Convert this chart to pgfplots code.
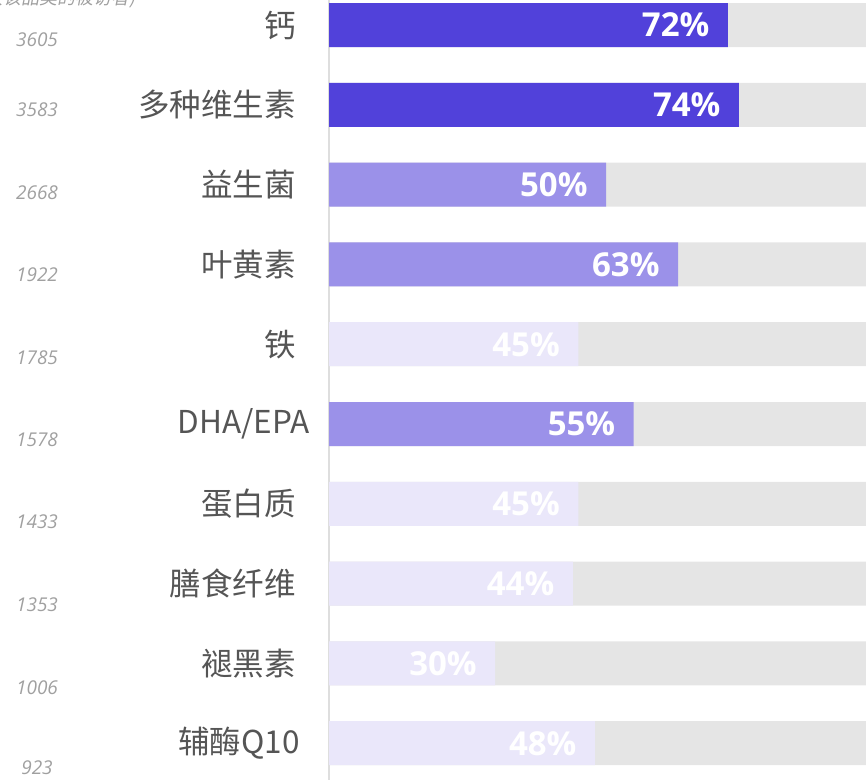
\documentclass[border=0pt]{standalone}
\usepackage{fontspec}
\usepackage{pgfplots}
\pgfplotsset{compat=1.18}
\setmainfont{Noto Sans CJK SC}
\newfontfamily\cjk{Noto Sans CJK SC}
\newfontfamily\cjkit{Noto Sans CJK SC}[FakeSlant=0.2]
\newfontfamily\numfont{Open Sans}
\definecolor{dark}{RGB}{81,65,218}
\definecolor{mid}{RGB}{155,145,233}
\definecolor{light}{RGB}{234,231,250}
\definecolor{bggray}{RGB}{229,229,229}
\definecolor{labelgray}{RGB}{85,85,85}
\definecolor{numgray}{RGB}{160,160,160}
\begin{document}
\begin{tikzpicture}
\useasboundingbox (0,0) rectangle (866pt,780pt);
\clip (0,0) rectangle (866pt,780pt);
\begin{axis}[
  at={(329pt,0pt)}, anchor=south west,
  scale only axis, width=537pt, height=780pt,
  xmin=0, xmax=96.93, ymin=-0.3133, ymax=9.461, y dir=reverse,
  clip=false,
  /pgf/number format/assume math mode=true,
  axis x line=none, axis y line*=left,
  axis line style={draw=black!13, line width=1.6pt},
  ytick={0,...,9},
  yticklabels={钙,多种维生素,益生菌,叶黄素,铁,DHA/EPA\kern-14pt,蛋白质,膳食纤维,褪黑素,辅酶Q10\kern-4pt},
  major tick length=0pt,
  yticklabel style={font=\cjk\fontsize{31.5}{31.5}\selectfont, text=labelgray, anchor=east, inner sep=0pt, xshift=-33pt},
  extra y ticks={0.188,1.065,2.105,3.133,4.173,5.200,6.228,7.268,8.308,9.31},
  extra y tick labels={3605,3583,2668,1922,1785,1578,1433,1353,1006,923},
  extra y tick style={major tick length=0pt, yticklabel style={font=\numfont\itshape\fontsize{19}{19}\selectfont, text=numgray, anchor=center, xshift=-259pt}},
  every node near coord/.style={anchor=east, xshift=-15pt, font=\numfont\bfseries\fontsize{33}{33}\selectfont, text=white},
]
\addplot[xbar, bar width=44pt, bar shift=0pt, fill=bggray, draw=none] coordinates {(100,0) (100,1) (100,2) (100,3) (100,4) (100,5) (100,6) (100,7) (100,8) (100,9)};
\addplot[xbar, bar width=44pt, bar shift=0pt, fill=dark, draw=none, point meta=x, nodes near coords={\pgfmathprintnumber{\pgfplotspointmeta}\%}] coordinates {(72,0) (74,1)};
\addplot[xbar, bar width=44pt, bar shift=0pt, fill=mid, draw=none, point meta=x, nodes near coords={\pgfmathprintnumber{\pgfplotspointmeta}\%}] coordinates {(50,2) (63,3) (55,5)};
\addplot[xbar, bar width=44pt, bar shift=0pt, fill=light, draw=none, point meta=x, nodes near coords={\pgfmathprintnumber{\pgfplotspointmeta}\%}] coordinates {(45,4) (45,6) (44,7) (30,8) (48,9)};
\end{axis}
\node[anchor=east, inner sep=0pt, font=\cjkit\fontsize{18}{18}\selectfont, text=numgray] at (136pt,781pt) {(购买该品类的被访者)};
\end{tikzpicture}
\end{document}
